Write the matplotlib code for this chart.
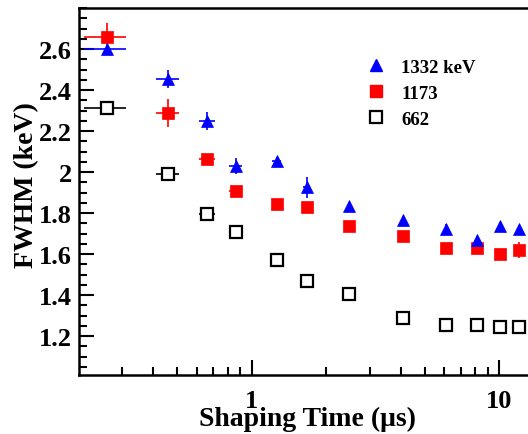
import matplotlib
matplotlib.use("Agg")
import matplotlib.pyplot as plt
from matplotlib.lines import Line2D
from matplotlib.ticker import MultipleLocator, FixedLocator, FixedFormatter, LogLocator, NullFormatter

plt.rcParams['font.family'] = ['Liberation Serif', 'DejaVu Serif']
plt.rcParams['font.weight'] = 'bold'

# Data
shaping_time = [0.261, 0.460, 0.662, 0.862, 1.262, 1.668, 2.465, 4.073, 6.075, 8.105, 10.09, 12.04]
xerr = [0.05] * 12
fwhm_1332 = [2.600, 2.454, 2.250, 2.031, 2.054, 1.925, 1.835, 1.767, 1.725, 1.670, 1.735, 1.722]
err_1332 = [0.02, 0.043, 0.043, 0.039, 0.02, 0.05, 0.02, 0.02, 0.02, 0.02, 0.02, 0.02]
fwhm_1173 = [2.660, 2.288, 2.063, 1.909, 1.844, 1.828, 1.738, 1.688, 1.629, 1.629, 1.600, 1.621]
err_1173 = [0.067, 0.07, 0.02, 0.02, 0.02, 0.02, 0.02, 0.02, 0.02, 0.02, 0.02, 0.04]
fwhm_662 = [2.311, 1.990, 1.798, 1.706, 1.571, 1.468, 1.408, 1.291, 1.253, 1.253, 1.245, 1.245]
err_662 = [0.01] * 12
labels = ["1332 keV", "1173", "662"]
y_ticks = [1.2, 1.4, 1.6, 1.8, 2.0, 2.2, 2.4, 2.6]
y_ticklabels = ["1.2", "1.4", "1.6", "1.8", "2", "2.2", "2.4", "2.6"]
x_ticks = [1, 10]
x_ticklabels = ["1", "10"]

W, H = 528, 435
fig = plt.figure(figsize=(W / 100, H / 100), dpi=100)
ax = fig.add_axes([79 / W, 1 - 376 / H, 1 - 79 / W, (376 - 9) / H])

ax.errorbar(shaping_time, fwhm_662, yerr=err_662, xerr=xerr, fmt='s', ms=9,
            mfc='white', mec='black', mew=1.6, ecolor='black', elinewidth=1.2, capsize=0, zorder=3)
ax.errorbar(shaping_time, fwhm_1173, yerr=err_1173, xerr=xerr, fmt='s', ms=9,
            mfc='red', mec='red', mew=0.5, ecolor='red', elinewidth=1.2, capsize=0, zorder=4)
ax.errorbar(shaping_time, fwhm_1332, yerr=err_1332, xerr=xerr, fmt='^', ms=9,
            mfc='blue', mec='blue', mew=0.5, ecolor='blue', elinewidth=1.2, capsize=0, zorder=5)

ax.set_xscale('log')
ax.set_xlim(0.2007, 13.06)
ax.set_ylim(1.011, 2.80)

ax.yaxis.set_major_locator(FixedLocator(y_ticks))
ax.yaxis.set_major_formatter(FixedFormatter(y_ticklabels))
ax.yaxis.set_minor_locator(MultipleLocator(0.05))

ax.xaxis.set_major_locator(FixedLocator(x_ticks))
ax.xaxis.set_major_formatter(FixedFormatter(x_ticklabels))
ax.xaxis.set_minor_locator(LogLocator(base=10, subs=range(2, 10), numticks=20))
ax.xaxis.set_minor_formatter(NullFormatter())

ax.tick_params(which='both', direction='in', width=1.5, top=False, right=False, labelsize=19)
ax.tick_params(which='major', length=11)
ax.tick_params(which='minor', length=6)
ax.tick_params(axis='y', pad=5)
ax.tick_params(axis='x', pad=10)

for s in ['left', 'bottom', 'top']:
    ax.spines[s].set_linewidth(1.8)
ax.spines['right'].set_visible(False)

ax.set_xlabel('Shaping Time (μs)', fontsize=20, fontweight='bold')
ax.xaxis.set_label_coords(0.508, -0.085)
ax.set_ylabel('FWHM (keV)', fontsize=20, fontweight='bold')
ax.yaxis.set_label_coords(-0.088, 0.52)

handles = [
    Line2D([], [], ls='none', marker='^', ms=9, mfc='blue', mec='blue'),
    Line2D([], [], ls='none', marker='s', ms=9, mfc='red', mec='red'),
    Line2D([], [], ls='none', marker='s', ms=9, mfc='white', mec='black', mew=1.6),
]
ax.legend(handles, labels, loc='upper left', bbox_to_anchor=(0.641, 0.862), frameon=False,
          fontsize=13.5, handlelength=1.0, handletextpad=0.85, labelspacing=0.48,
          borderpad=0, borderaxespad=0)

fig.savefig('out.png', dpi=100)
